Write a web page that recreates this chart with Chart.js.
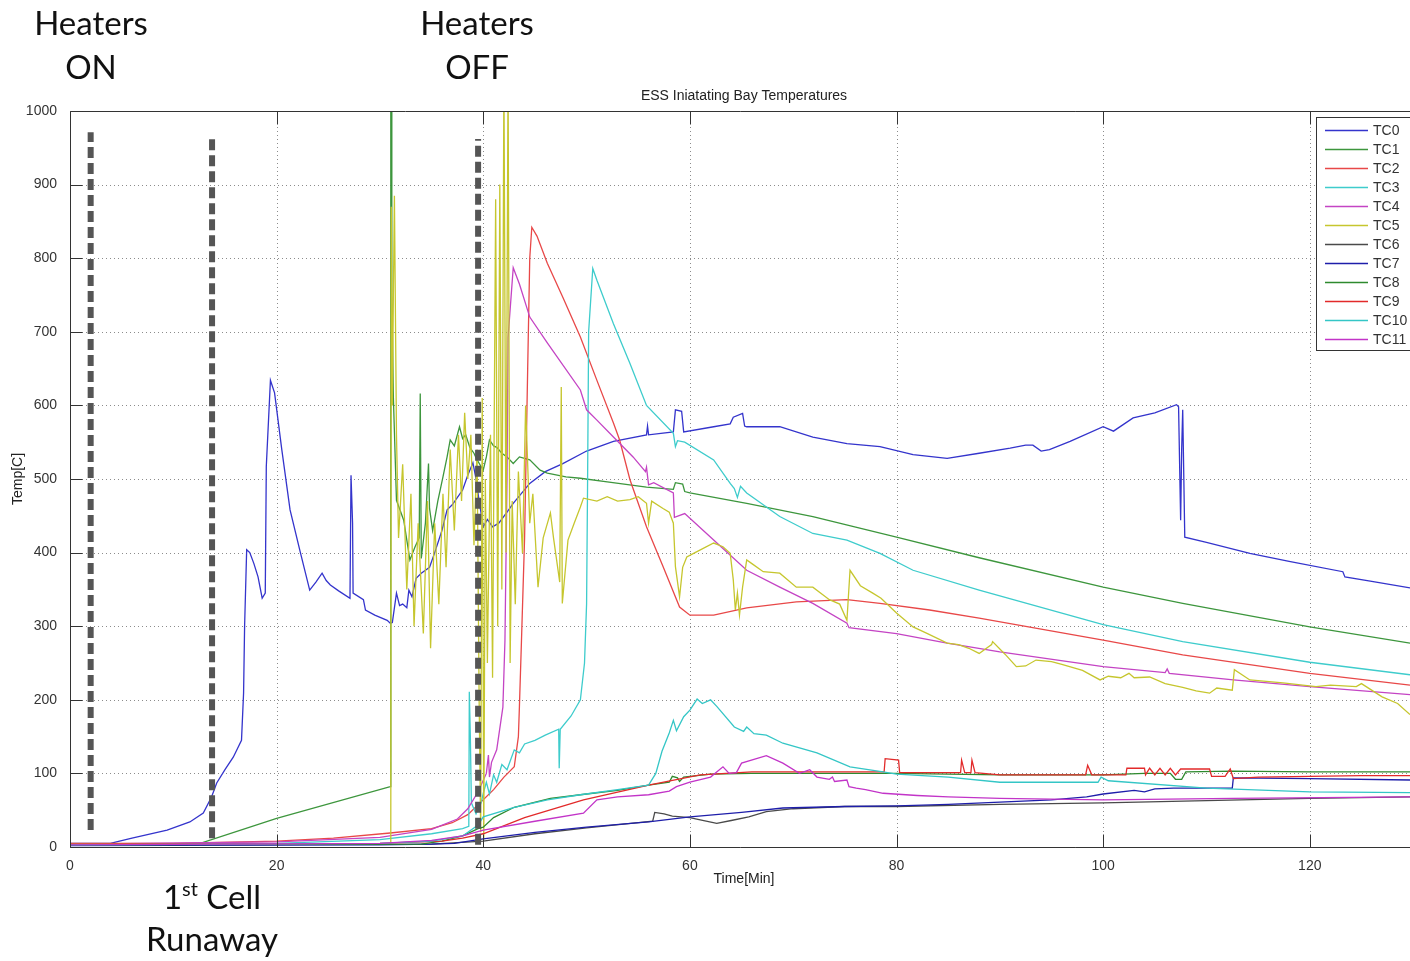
<!DOCTYPE html>
<html>
<head>
<meta charset="utf-8">
<title>ESS Iniatating Bay Temperatures</title>
<script src="https://cdn.jsdelivr.net/npm/chart.js@4.4.1/dist/chart.umd.min.js"></script>
<style>
  html, body { margin: 0; padding: 0; background: #ffffff; }
  canvas { display: block; }
</style>
</head>
<body>
<canvas id="chart" width="1410" height="961"></canvas>
<script>
// Thermocouple readings, [time in minutes, temperature in °C]
const tc0 = [[0,5],[3.9,5],[6,12],[9.4,23],[11.6,34],[12.9,46],[13.7,68],[14.2,87],[15,105],[15.8,122],[16.6,145],[16.8,209],[16.9,300],[17.1,404],[17.4,400],[17.8,385],[18.2,367],[18.6,338],[18.9,345],[19.0,517],[19.4,634],[19.8,617],[20.5,540],[21.3,458],[22.3,400],[23.2,349],[23.8,360],[24.4,372],[24.8,362],[25.2,356],[26,348],[27.1,338],[27.2,505],[27.35,440],[27.4,345],[28.4,336],[28.6,322],[29.5,315],[30.7,308],[31,304],[31.2,305],[31.6,345],[31.9,328],[32.2,330],[32.6,325],[32.8,349],[33.1,340],[33.5,365],[34,372],[34.8,380],[35.3,400],[36,430],[36.5,458],[37,465],[37.5,475],[38,485],[38.5,505],[39,522],[39.3,500],[39.6,470],[40,435],[40.4,445],[40.9,435],[41.5,440],[42.3,455],[42.9,467],[44.5,494],[46,510],[47.7,521],[50,538],[52.6,551],[55.8,560],[55.9,572],[56,560],[58.4,564],[58.6,594],[59.2,592],[59.4,564],[62.3,571],[63.9,575],[64.2,584],[65.1,589],[65.3,572],[65.5,571],[68.7,571],[71.9,557],[75.2,548],[78.4,544],[81.6,533],[84.9,528],[88,535],[91,542],[92.5,546],[93.2,546],[94,538],[94.8,540],[96.8,551],[100,571],[101,565],[102.9,583],[105,590],[107.1,601],[107.3,598],[107.5,444],[107.6,540],[107.7,594],[107.9,421],[110,414],[114.2,399],[118,388],[123.2,374],[123.4,367],[126,361],[129.7,352]];
const tc1 = [[0,3],[12.6,5],[20,39],[31,82],[31.05,1050],[31.1,1050],[31.15,750],[31.3,611],[31.6,471],[32.3,444],[32.9,390],[33.4,408],[33.8,420],[33.9,616],[34.0,392],[34.4,440],[34.7,521],[34.8,460],[35.1,430],[35.6,470],[36.1,503],[36.5,530],[36.8,553],[37.2,545],[37.7,571],[38,555],[38.3,560],[38.7,543],[39.1,535],[39.4,526],[40,512],[40.3,530],[40.6,553],[41,545],[41.3,543],[41.8,535],[42.3,530],[42.9,521],[43.5,530],[44.5,526],[45.5,512],[46.2,508],[48,503],[49.4,501],[52,496],[55.8,489],[58.4,486],[58.6,495],[59.3,493],[59.5,483],[60,481],[65.5,467],[71.9,449],[80,421],[88,393],[100,353],[107.7,331],[120,299],[129.7,277]];
const tc2 = [[0,5],[10,5],[20,8],[25.5,12],[31,19],[35,25],[37,33],[38.5,44],[39.7,60],[41,78],[42,95],[43,109],[43.4,150],[43.5,191],[43.7,281],[44,420],[44.3,650],[44.5,800],[44.7,842],[45.2,830],[46.2,793],[47.7,747],[49.4,693],[51,634],[52.6,576],[53.2,553],[54.2,499],[55.8,435],[57.4,381],[59,326],[60,315],[62.3,315],[65.5,325],[70.3,333],[75.2,336],[78.4,331],[83.2,322],[88,311],[100,281],[107.7,261],[120,236],[129.7,220]];
const tc3 = [[0,3],[20,5],[30,10],[35,18],[38,25],[38.6,28],[38.65,211],[38.75,150],[38.85,60],[39.3,45],[39.8,60],[40,73],[40.3,88],[40.6,72],[41,98],[41.3,88],[41.8,112],[42.3,105],[43,132],[43.5,128],[44,140],[45,145],[46,152],[47.3,160],[47.35,107],[47.45,160],[48.5,178],[49.4,200],[49.8,250],[50,330],[50.1,500],[50.2,700],[50.6,786],[51,770],[52.6,711],[54.2,657],[55.8,600],[58.4,562],[58.6,544],[58.8,552],[59.5,550],[62.3,526],[63.9,494],[64.3,487],[64.6,475],[64.9,490],[65.5,481],[68.7,449],[71.9,426],[75.2,417],[78.4,399],[81.6,376],[88,349],[100,302],[107.7,279],[120,251],[129.7,234]];
const tc4 = [[0,4],[20,7],[30,13],[35,24],[37.5,38],[38.5,52],[39.5,75],[40.3,100],[40.5,125],[40.6,95],[40.8,115],[41.3,132],[41.9,190],[42.1,281],[42.3,500],[42.4,692],[42.9,787],[43.5,765],[44.5,720],[46.2,685],[49.4,621],[50,594],[51,580],[52.6,557],[54.5,530],[55.7,510],[55.8,516],[56.0,492],[56.5,495],[58.4,481],[58.5,448],[59.5,453],[62.3,417],[65.5,376],[68.7,353],[71.9,331],[75.2,304],[75.4,298],[80,290],[84.9,277],[90,265],[100,245],[106,237],[106.2,242],[106.4,236],[112.6,227],[120,218],[129.7,207]];
const tc5 = [[0,4],[31.0,5],[31.05,20],[31.1,870],[31.2,600],[31.3,750],[31.4,885],[31.6,560],[31.8,420],[32.2,520],[32.6,350],[33,480],[33.3,300],[33.7,440],[34.2,290],[34.6,470],[34.9,270],[35.3,440],[35.7,330],[36.1,480],[36.4,380],[36.8,540],[37.2,430],[37.6,560],[37.9,470],[38.2,590],[38.5,500],[38.8,560],[39.1,410],[39.4,540],[39.6,200],[39.75,20],[39.9,610],[40.05,10],[40.2,500],[40.4,250],[40.7,560],[40.9,230],[41.2,880],[41.4,300],[41.6,900],[41.8,350],[42.0,1050],[42.2,400],[42.4,1050],[42.6,250],[42.8,470],[43.1,330],[43.4,510],[43.8,399],[44.1,600],[44.5,440],[44.8,480],[45.3,353],[45.8,420],[46.5,454],[46.8,420],[47.4,360],[47.55,625],[47.65,331],[48.2,417],[48.8,440],[49.4,462],[49.7,474],[51,470],[52,476],[53,470],[54.2,472],[55,476],[55.8,467],[56,440],[56.3,470],[57.4,460],[58,455],[58.4,440],[58.6,381],[59,340],[59.3,380],[59.7,394],[60.5,400],[62.3,413],[63.2,408],[63.9,399],[64.2,363],[64.4,322],[64.6,345],[64.8,315],[65.1,353],[65.5,390],[66,385],[67.1,374],[68.7,372],[70.3,353],[71.9,353],[73.5,336],[74.5,330],[75.2,308],[75.5,376],[76.5,355],[77.7,345],[78.5,338],[80,318],[81.6,299],[83,290],[84.9,277],[86,275],[87,270],[88,263],[89.2,275],[89.3,279],[90.5,262],[91.6,245],[92.5,246],[93.5,254],[95,252],[96,248],[98,240],[99.7,227],[100.5,232],[101.7,230],[102.5,236],[103,230],[104.5,231],[106,222],[107.7,217],[109,212],[110.3,209],[111,216],[112.5,213],[112.7,241],[114.2,227],[117.4,223],[120.6,218],[122,220],[124.5,218],[125,222],[127,204],[128.5,195],[129.7,180]];
const tc6 = [[0,3],[35,4],[40,8],[45,18],[50,26],[55,33],[56.4,35],[56.6,47],[57.5,45],[58.3,42],[60,40],[61,37],[62.6,32],[64,36],[65.7,41],[67.4,48],[70,52],[75,55],[80,55],[90,58],[100,60],[110,63],[120,66],[129.7,68]];
const tc7 = [[0,2],[30,3],[35,4],[37.2,5],[40,11],[45,20],[50,27],[56,34],[60,41],[65,47],[69,53],[75,55],[80,56],[85,58],[90,61],[95,64],[98.4,68],[100,72],[103,77],[104,75],[105,79],[106.8,80],[112.5,80],[112.6,94],[120,93],[129.7,91]];
const tc8 = [[0,3],[34,4],[36,8],[38,15],[39.5,25],[40,27],[41,40],[43,54],[46.5,66],[50,72],[53,77],[56,84],[58,88],[58.3,96],[58.8,94],[59,89],[59.4,95],[62,99],[66,100],[80,100],[90,98],[100,98],[104,100],[106.5,100],[107,92],[107.6,92],[108,102],[112.5,103],[120,102],[129.7,102]];
const tc9 = [[0,4],[30,5],[36,8],[38,12],[40,18],[44,40],[49.7,64],[56,84],[61,98],[66,102],[78.8,102],[78.9,120],[80.2,118],[80.3,101],[86.2,101],[86.3,118],[86.6,101],[87.2,101],[87.3,118],[87.6,101],[90,98],[98.3,98],[98.5,111],[98.9,98],[102.2,98],[102.3,107],[104,107],[104.1,98],[104.5,107],[105,98],[105.5,107],[106,98],[106.5,107],[107,98],[107.5,106],[110.3,106],[110.5,96],[111.8,96],[112.3,106],[112.6,93],[115,95],[120,96],[125,97],[129.7,97]];
const tc10 = [[0,3],[30,5],[35,8],[38,15],[39.5,30],[40,41],[43,54],[46.2,64],[49.4,71],[53,78],[56,84],[56.7,100],[57.3,130],[58,155],[58.4,172],[58.7,158],[59.4,177],[60,186],[60.7,201],[61.2,195],[62,200],[62.6,191],[64.3,163],[65.2,157],[65.5,163],[66.2,154],[67.4,152],[69,141],[72.3,128],[75.5,109],[78.7,102],[80,99],[85,95],[90,88],[99.5,88],[99.8,95],[100.5,90],[110,80],[120,75],[129.7,74]];
const tc11 = [[0,3],[30,5],[35,9],[38,15],[40,23],[45,35],[49.7,46],[51,64],[53,68],[56,71],[58,76],[58.7,82],[60,88],[62,95],[63.2,109],[63.8,100],[64.5,101],[65,114],[67.4,124],[69,114],[70.6,100],[71.6,105],[72.3,95],[73.5,92],[73.8,95],[74,89],[75.2,91],[75.4,82],[76.1,80],[77,78],[78.7,73],[82,70],[85,68],[90,66],[100,64],[112.6,66],[129.7,68]];

const seriesNames = ['TC0','TC1','TC2','TC3','TC4','TC5','TC6','TC7','TC8','TC9','TC10','TC11'];
const seriesData = [tc0, tc1, tc2, tc3, tc4, tc5, tc6, tc7, tc8, tc9, tc10, tc11];

// Event markers: time [min] and vertical extent [°C]
const markerTimes = [2.0, 13.75, 39.5];
const markerTops = [971, 962, 962];
const markerBottoms = [23, 12, 3];

// Axis tick values
const xTickValues = [0, 20, 40, 60, 80, 100, 120];
const yTickValues = [0, 100, 200, 300, 400, 500, 600, 700, 800, 900, 1000];
const xMax = 129.7;

const seriesColors = ['#3434cc', '#3d963d', '#e84848', '#3ecccc', '#c444c4', '#c6c62e',
                      '#4a4a4a', '#1e1eaa', '#2e8a2e', '#e22a2a', '#34c6c6', '#c234c8'];

const tickFont = { family: '"Liberation Sans", Arial, sans-serif', size: 14 };
const textColor = '#333333';

const datasets = seriesData.map((pts, i) => ({
  label: seriesNames[i],
  data: pts.map(p => ({ x: p[0], y: p[1] })),
  borderColor: seriesColors[i],
  backgroundColor: seriesColors[i],
  borderWidth: 1.3,
  pointRadius: 0,
  tension: 0,
  fill: false,
  order: 100 - i
}));

markerTimes.forEach((t, i) => {
  datasets.push({
    label: 'marker' + i,
    data: [{ x: t, y: markerBottoms[i] }, { x: t, y: markerTops[i] }],
    borderColor: '#555555',
    borderWidth: 6,
    borderDash: [11, 5],
    borderCapStyle: 'butt',
    pointRadius: 0,
    fill: false,
    order: 0
  });
});

function seg(ctx, x1, y1, x2, y2) {
  ctx.beginPath();
  ctx.moveTo(x1, y1);
  ctx.lineTo(x2, y2);
  ctx.stroke();
}

// Dotted grid behind the traces
const gridPlugin = {
  id: 'dottedGrid',
  beforeDatasetsDraw(chart) {
    const { ctx, chartArea: a, scales: { x, y } } = chart;
    ctx.save();
    ctx.strokeStyle = '#8c8c8c';
    ctx.lineWidth = 1;
    ctx.setLineDash([1, 3]);
    xTickValues.forEach(v => {
      if (v === 0) return;
      const px = Math.round(x.getPixelForValue(v)) + 0.5;
      seg(ctx, px, a.top, px, a.bottom);
    });
    yTickValues.forEach(v => {
      if (v === 0 || v === 1000) return;
      const py = Math.round(y.getPixelForValue(v)) + 0.5;
      seg(ctx, a.left, py, a.right, py);
    });
    ctx.restore();
  }
};

// Axes box, inward ticks, legend box and text
const decorPlugin = {
  id: 'decor',
  afterDatasetsDraw(chart) {
    const { ctx, chartArea: a, scales: { x, y } } = chart;
    ctx.save();
    ctx.strokeStyle = '#333333';
    ctx.lineWidth = 1;
    ctx.setLineDash([]);
    const L = Math.round(a.left) + 0.5, T = Math.round(a.top) + 0.5, B = Math.round(a.bottom) + 0.5;
    seg(ctx, L, T, a.right, T);
    seg(ctx, L, T, L, B);
    seg(ctx, L, B, a.right, B);
    const tl = 13;
    xTickValues.forEach(v => {
      const px = Math.round(x.getPixelForValue(v)) + 0.5;
      seg(ctx, px, B, px, B - tl);
      seg(ctx, px, T, px, T + tl);
    });
    yTickValues.forEach(v => {
      const py = Math.round(y.getPixelForValue(v)) + 0.5;
      seg(ctx, L, py, L + 12, py);
    });

    // legend
    const lx = 1316.5, ly = 117.5, lw = 120, lh = 233;
    ctx.fillStyle = '#ffffff';
    ctx.fillRect(lx, ly, lw, lh);
    ctx.strokeRect(lx, ly, lw, lh);
    ctx.font = '14px "Liberation Sans", Arial, sans-serif';
    ctx.textBaseline = 'middle';
    ctx.textAlign = 'left';
    seriesNames.forEach((name, i) => {
      const ry = 130 + i * 19;
      ctx.strokeStyle = seriesColors[i];
      ctx.lineWidth = 1.3;
      seg(ctx, 1325, ry + 0.5, 1368, ry + 0.5);
      ctx.fillStyle = textColor;
      ctx.fillText(name, 1373, ry + 1);
    });
    ctx.restore();
  },
  afterDraw(chart) {
    const { ctx } = chart;
    ctx.save();
    ctx.fillStyle = '#222222';
    ctx.font = '14px "Liberation Sans", Arial, sans-serif';
    ctx.textAlign = 'center';
    ctx.textBaseline = 'middle';
    ctx.fillText('ESS Iniatating Bay Temperatures', 744, 96);
    ctx.fillText('Time[Min]', 744, 879);
    ctx.translate(18, 479);
    ctx.rotate(-Math.PI / 2);
    ctx.fillText('Temp[C]', 0, 0);
    ctx.restore();

    // event annotations
    ctx.save();
    ctx.fillStyle = '#111111';
    ctx.textBaseline = 'alphabetic';
    ctx.textAlign = 'center';
    const big = '33px Lato, "Open Sans", sans-serif';
    ctx.font = big;
    ctx.fillText('Heaters', 91, 35);
    ctx.fillText('ON', 91, 79);
    ctx.fillText('Heaters', 477, 35);
    ctx.fillText('OFF', 477, 79);
    ctx.fillText('Runaway', 212, 951);
    // "1st Cell" with superscript
    ctx.textAlign = 'left';
    const small = '20px Lato, "Open Sans", sans-serif';
    ctx.font = big; const w1 = ctx.measureText('1').width;
    ctx.font = small; const w2 = ctx.measureText('st').width;
    ctx.font = big; const w3 = ctx.measureText(' Cell').width;
    let sx = 212 - (w1 + w2 + w3) / 2;
    ctx.font = big; ctx.fillText('1', sx, 909); sx += w1;
    ctx.font = small; ctx.fillText('st', sx, 896); sx += w2;
    ctx.font = big; ctx.fillText(' Cell', sx, 909);
    ctx.restore();
  }
};

new Chart(document.getElementById('chart'), {
  type: 'line',
  data: { datasets },
  options: {
    responsive: false,
    devicePixelRatio: 1,
    animation: false,
    events: [],
    layout: { padding: { top: 111, left: 0, right: 0, bottom: 0 } },
    plugins: { legend: { display: false }, title: { display: false }, tooltip: { enabled: false } },
    scales: {
      x: {
        type: 'linear',
        min: 0,
        max: xMax,
        afterBuildTicks: s => { s.ticks = xTickValues.map(v => ({ value: v })); },
        afterFit: s => { s.height = 114; },
        ticks: { font: tickFont, color: textColor, padding: 3, maxRotation: 0, autoSkip: false,
                 callback: v => String(v) },
        grid: { display: false },
        border: { display: false }
      },
      y: {
        type: 'linear',
        min: 0,
        max: 1000,
        afterBuildTicks: s => { s.ticks = yTickValues.map(v => ({ value: v })); },
        afterFit: s => { s.width = 70; },
        ticks: { font: tickFont, color: textColor, padding: 5, autoSkip: false,
                 callback: v => String(v) },
        grid: { display: false },
        border: { display: false }
      }
    }
  },
  plugins: [gridPlugin, decorPlugin]
});
</script>
</body>
</html>
